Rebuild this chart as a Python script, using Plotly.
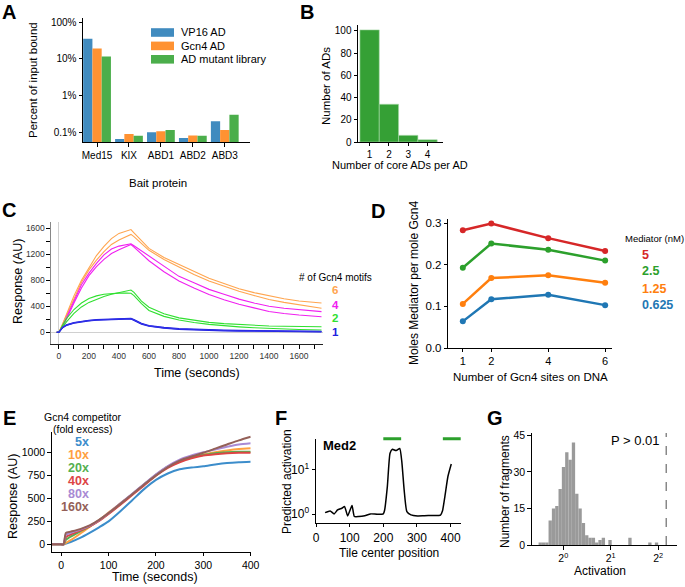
import plotly.graph_objects as go

W, H = 685, 587
FONT = "Liberation Sans, Arial, sans-serif"

# ---------------- Panel A data ----------------
a_bait_proteins = ["Med15", "KIX", "ABD1", "ABD2", "ABD3"]
a_vp16_ad = [35, 0.066, 0.10, 0.07, 0.20]          # percent of input bound
a_gcn4_ad = [19, 0.090, 0.107, 0.082, 0.115]
a_mutant_library = [11.5, 0.080, 0.115, 0.080, 0.30]
a_series_names = ["VP16 AD", "Gcn4 AD", "AD mutant library"]

# ---------------- Panel B data ----------------
b_core_ads = [1, 2, 3, 4]
b_num_ads = [101, 34, 6, 2]

# ---------------- Panel C data ----------------
c_time = [-15, 0, 25, 50, 100, 150, 200, 250, 300, 350, 400, 450, 480, 500, 550, 600,
          700, 800, 900, 1000, 1100, 1200, 1300, 1400, 1500, 1600, 1750]
c_orange_1 = [0, 0, 130, 270, 560, 800, 1000, 1180, 1320, 1440, 1520, 1560, 1580, 1530, 1410, 1290,
              1150, 1040, 930, 830, 750, 670, 610, 560, 515, 480, 450]
c_orange_2 = [0, 0, 125, 255, 530, 770, 960, 1110, 1240, 1350, 1420, 1475, 1505, 1470, 1370, 1260,
              1120, 1000, 890, 790, 705, 630, 565, 505, 460, 420, 370]
c_magenta_1 = [0, 0, 100, 225, 490, 730, 910, 1060, 1190, 1280, 1325, 1350, 1360, 1330, 1250, 1170,
               1010, 860, 760, 660, 585, 510, 450, 400, 370, 345, 317]
c_magenta_2 = [0, 0, 90, 200, 450, 680, 870, 1010, 1120, 1210, 1270, 1320, 1350, 1310, 1200, 1100,
               930, 790, 680, 580, 500, 430, 375, 320, 290, 265, 240]
c_green_1 = [0, 0, 80, 160, 290, 390, 460, 510, 550, 585, 610, 635, 650, 615, 480, 385,
             285, 222, 182, 152, 133, 118, 106, 97, 92, 88, 86]
c_green_2 = [0, 0, 110, 210, 350, 450, 520, 560, 585, 598, 602, 603, 600, 565, 440, 335,
             245, 190, 150, 122, 100, 84, 70, 58, 48, 42, 35]
c_blue_1 = [0, 0, 80, 115, 150, 170, 185, 195, 200, 205, 210, 212, 215, 195, 140, 105,
            75, 58, 48, 40, 35, 30, 26, 23, 20, 18, 15]
c_blue_2 = [0, 0, 70, 105, 140, 160, 175, 185, 192, 197, 200, 203, 205, 185, 125, 92,
            62, 45, 35, 28, 22, 18, 14, 12, 10, 8, 6]
c_blue_3 = [0, 0, 75, 110, 145, 165, 180, 190, 196, 202, 206, 208, 210, 190, 132, 98,
            68, 51, 41, 34, 28, 24, 20, 17, 15, 13, 10]
c_motif_labels = ["6", "4", "2", "1"]

# ---------------- Panel D data ----------------
d_sites = [1, 2, 4, 6]
d_med_5 = [0.283, 0.299, 0.264, 0.233]
d_med_2_5 = [0.193, 0.251, 0.236, 0.210]
d_med_1_25 = [0.106, 0.168, 0.175, 0.157]
d_med_0_625 = [0.064, 0.117, 0.128, 0.103]
d_conc_labels = ["5", "2.5", "1.25", "0.625"]

# ---------------- Panel E data ----------------
e_time = [-20, 0, 5, 10, 20, 40, 60, 80, 100, 125, 150, 175, 200, 225, 250, 275, 300, 325, 350, 375, 400]
e_5x = [0, 0, 0, 8, 25, 70, 125, 185, 250, 360, 480, 600, 700, 770, 815, 835, 848, 868, 884, 893, 898]
e_10x = [0, 0, 0, 15, 45, 115, 190, 265, 345, 445, 545, 650, 755, 845, 910, 950, 975, 1000, 1020, 1035, 1043]
e_20x = [0, 0, 0, 50, 85, 140, 195, 260, 335, 440, 545, 650, 755, 845, 905, 945, 970, 990, 1000, 1005, 1007]
e_40x = [0, 0, 0, 80, 105, 150, 195, 255, 330, 430, 535, 640, 745, 830, 890, 935, 965, 980, 990, 995, 996]
e_80x = [0, 0, 0, 105, 125, 160, 200, 262, 340, 445, 550, 655, 760, 850, 920, 965, 1000, 1030, 1060, 1085, 1098]
e_160x = [0, 0, 0, 125, 138, 165, 205, 265, 340, 440, 545, 650, 750, 840, 910, 955, 995, 1040, 1085, 1130, 1170]
e_fold_labels = ["5x", "10x", "20x", "40x", "80x", "160x"]

# ---------------- Panel F data ----------------
f_tile_pos = [27, 42, 54, 64, 77, 85, 94, 107, 114, 127, 145, 162, 182, 200, 204, 212, 220, 227, 237,
              242, 249, 255, 262, 270, 282, 302, 322, 345, 370, 376, 383, 392, 402]
f_activation = [1.09, 1.19, 1.02, 1.25, 1.37, 1.49, 0.92, 1.57, 0.89, 0.89, 0.93, 1.02, 1.0, 1.02, 1.25,
                4.2, 23.8, 29.2, 27.3, 28.3, 30.3, 15.4, 3.5, 1.15, 0.97, 0.92, 0.93, 0.94, 0.96, 1.2,
                2.5, 7.1, 13.6]
f_core_ad_regions = [(200, 253), (377, 431)]

# ---------------- Panel G data ----------------
g_log2_activation = [-0.485, -0.415, -0.345, -0.275, -0.205, -0.135, -0.065, 0.005, 0.075, 0.145,
                     0.215, 0.285, 0.355, 0.425, 0.495, 0.565, 0.635, 0.705, 0.775, 0.845, 0.985,
                     1.405, 1.825, 1.965]
g_counts = [1, 1, 1, 10, 15, 16, 23, 32, 38, 35, 42, 21, 15, 9, 4, 3, 3, 1, 2, 3, 2, 3, 1, 1]
g_bin_width = 0.07
g_threshold_log2 = 2.17


def px(x):
    return x / W


def py(y):
    return 1 - y / H


def axis(domain, anchor, size=10, **kw):
    d = dict(domain=domain, anchor=anchor, showline=True, linecolor="black", linewidth=1,
             ticks="outside", ticklen=3.5, tickwidth=1, tickcolor="black", showgrid=False,
             zeroline=False, automargin=False, fixedrange=True,
             tickfont=dict(size=size, family=FONT, color="black"))
    d.update(kw)
    return d


fig = go.Figure()

# ---- A ----
a_colors = ["#408bbf", "#ff9232", "#4bae4b"]
a_offsets = [-0.435, -0.145, 0.145]
for vals, col, off, name in zip([a_vp16_ad, a_gcn4_ad, a_mutant_library], a_colors, a_offsets, a_series_names):
    fig.add_trace(go.Bar(x=a_bait_proteins, y=vals, name=name, marker=dict(color=col, line=dict(width=0)),
                         width=0.29, offset=off, xaxis="x", yaxis="y", showlegend=False))

# ---- B ----
fig.add_trace(go.Bar(x=b_core_ads, y=b_num_ads, width=1, marker=dict(color="#35a035", line=dict(color="#a8d8a8", width=0.6)),
                     xaxis="x2", yaxis="y2", showlegend=False))

# ---- C ----
c_sets = [(c_orange_1, "#ffa54f"), (c_orange_2, "#ffa54f"), (c_magenta_1, "#f020f0"), (c_magenta_2, "#f020f0"),
          (c_green_1, "#30e030"), (c_green_2, "#30e030"), (c_blue_1, "#2020e0"), (c_blue_2, "#2020e0"),
          (c_blue_3, "#3030e8")]
for ys, col in c_sets:
    fig.add_trace(go.Scatter(x=c_time, y=ys, mode="lines", line=dict(color=col, width=1.1),
                             xaxis="x3", yaxis="y3", showlegend=False))

# ---- D ----
d_colors = ["#d62728", "#2ca02c", "#ff7f0e", "#1f77b4"]
for ys, col in zip([d_med_5, d_med_2_5, d_med_1_25, d_med_0_625], d_colors):
    fig.add_trace(go.Scatter(x=d_sites, y=ys, mode="lines+markers", line=dict(color=col, width=2.5),
                             marker=dict(color=col, size=6), xaxis="x4", yaxis="y4", showlegend=False))

# ---- E ----
e_colors = ["#3c8dcb", "#ffa040", "#55b050", "#dd4444", "#a98ad4", "#946058"]
for ys, col in zip([e_5x, e_10x, e_20x, e_40x, e_80x, e_160x], e_colors):
    fig.add_trace(go.Scatter(x=e_time, y=ys, mode="lines", line=dict(color=col, width=2, shape="spline", smoothing=0.6),
                             xaxis="x5", yaxis="y5", showlegend=False))

# ---- F ----
fig.add_trace(go.Scatter(x=f_tile_pos, y=f_activation, mode="lines", line=dict(color="black", width=1.5, shape="spline", smoothing=0.5),
                         xaxis="x6", yaxis="y6", showlegend=False))

# ---- G ----
fig.add_trace(go.Bar(x=g_log2_activation, y=g_counts, width=g_bin_width, marker=dict(color="#9a9a9a", line=dict(width=0)),
                     xaxis="x7", yaxis="y7", showlegend=False))

shapes = []
annotations = []


def ann(text, x, y, size=11, bold=False, color="black", angle=0, xanchor="center", yanchor="middle", pad=1):
    if bold:
        text = "<b>" + text + "</b>"
    annotations.append(dict(text=text, x=px(x), y=py(y), xref="paper", yref="paper", showarrow=False,
                            font=dict(size=size, family=FONT, color=color), textangle=angle,
                            xanchor=xanchor, yanchor=yanchor, borderpad=pad))


# panel letters
for letter, (x, y) in zip("ABCDEFG", [(9, 12), (307, 12), (9, 210), (378, 211), (9, 418), (281, 418), (495, 418)]):
    ann(letter, x, y, size=20, bold=True)

# A titles & legend
ann("Percent of input bound", 33, 80, size=11.5, angle=-90)
ann("Bait protein", 158, 183, size=11.5)
for i, (name, col) in enumerate(zip(a_series_names, a_colors)):
    yc = 32.5 + 13.4 * i
    shapes.append(dict(type="rect", xref="paper", yref="paper", x0=px(151), x1=px(174), y0=py(yc + 4.3), y1=py(yc - 4.3),
                       fillcolor=col, line=dict(width=0)))
    ann(name, 179, yc, size=11, xanchor="left")

# B titles
ann("Number of ADs", 326, 86, size=11.5, angle=-90)
ann("Number of core ADs per AD", 400, 165, size=11)

# C titles & legend
ann("Response (AU)", 18, 282, size=12.5, angle=-90)
ann("Time (seconds)", 197, 373, size=12.5)
ann("# of Gcn4 motifs", 335, 278, size=10)
for lab, col, yy in zip(c_motif_labels, ["#ffa54f", "#f020f0", "#30e030", "#2020e0"], [290, 304.5, 318, 331.5]):
    ann(lab, 335, yy, size=11.5, bold=True, color=col, pad=0)

# D titles & legend
ann("Moles Mediator per mole Gcn4", 414, 283, size=12, angle=-90)
ann("Number of Gcn4 sites on DNA", 530, 377, size=11.5)
ann("Mediator (nM)", 623, 238, size=9.5, xanchor="left")
for lab, col, yy in zip(d_conc_labels, d_colors, [254.5, 271, 288.5, 305]):
    ann(lab, 640, yy, size=12.5, bold=True, color=col, xanchor="left")

# E titles & legend
ann("Response (AU)", 13, 497, size=12.5, angle=-90)
ann("Time (seconds)", 155, 577, size=12.5)
ann("Gcn4 competitor", 83, 416.5, size=10.5)
ann("(fold excess)", 83, 429, size=10.5)
for lab, col, yy in zip(e_fold_labels, e_colors, [441.7, 454.5, 468, 481, 494.3, 507.5]):
    ann(lab, 91, yy, size=12.5, bold=True, color=col, xanchor="right")

# F titles
ann("Predicted activation", 287, 482, size=12, angle=-90)
ann("Tile center position", 389, 553, size=12)
ann("Med2", 321, 445, size=13, bold=True, xanchor="left")
for x0, x1 in f_core_ad_regions:
    shapes.append(dict(type="line", xref="x6", yref="paper", x0=x0, x1=x1, y0=py(438.7), y1=py(438.7),
                       line=dict(color="#2ca02c", width=3)))

# G titles
ann("Number of fragments", 505, 492, size=12, angle=-90)
ann("Activation", 600, 571, size=12)
ann("P > 0.01", 662, 440, size=13, xanchor="right")
shapes.append(dict(type="line", xref="x7", yref="paper", x0=g_threshold_log2, x1=g_threshold_log2,
                   y0=py(545), y1=py(433), line=dict(color="#888888", width=1.5, dash="dash")))

layout = dict(
    width=W, height=H, margin=dict(l=0, r=0, t=0, b=0, autoexpand=False), paper_bgcolor="white", plot_bgcolor="white",
    barmode="overlay", font=dict(family=FONT, color="black"), showlegend=False,
    shapes=shapes, annotations=annotations,
    # A
    xaxis=axis([px(83), px(250)], "y", size=10, type="category", range=[-0.44, 4.79]),
    yaxis=axis([py(142), py(18)], "x", size=10, type="log", range=[-1.264, 2.109],
               tickvals=[0.1, 1, 10, 100], ticktext=["0.1%", "1%", "10%", "100%"]),
    # B
    xaxis2=axis([px(358), px(443)], "y2", size=10, range=[0.40, 4.8], tickvals=[1, 2, 3, 4], ticklen=2.5),
    yaxis2=axis([py(142), py(25)], "x2", size=10, range=[0, 105.4], tickvals=[0, 20, 40, 60, 80, 100]),
    # C
    xaxis3=axis([px(51), px(323)], "y3", size=8.5, range=[-53, 1760], tickvals=list(range(0, 1601, 200)),
                zeroline=True, zerolinecolor="#d0d0d0", zerolinewidth=1, linecolor="#222",
                tickfont=dict(size=8.5, family=FONT, color="#333"),
                minor=dict(ticks="outside", dtick=100, tick0=0, ticklen=4, tickcolor="black")),
    yaxis3=axis([py(344), py(221.7)], "x3", size=8.5, range=[-180, 1700], tickvals=[0, 400, 800, 1200, 1600],
                zeroline=True, zerolinecolor="#d0d0d0", zerolinewidth=1, linecolor="#888",
                tickfont=dict(size=8.5, family=FONT, color="#333"),
                minor=dict(ticks="outside", dtick=200, tick0=0, ticklen=4, tickcolor="black")),
    # D
    xaxis4=axis([px(448.3), px(611.7)], "y4", size=11, range=[0.49, 6.23], tickvals=[1, 2, 4, 6], ticklen=3),
    yaxis4=axis([py(348), py(219)], "x4", size=11.5, range=[0, 0.31], tickvals=[0, 0.1, 0.2, 0.3], tickformat=".1f"),
    # E
    xaxis5=axis([px(51.7), px(250.7)], "y5", size=10.5, range=[-20, 400], tickvals=[0, 100, 200, 300, 400]),
    yaxis5=axis([py(551.7), py(431.7)], "x5", size=10.5, range=[-80, 1224], tickvals=[0, 250, 500, 750, 1000]),
    # F
    xaxis6=axis([px(316), px(460.7)], "y6", size=12, range=[0, 430], tickvals=[0, 100, 200, 300, 400]),
    yaxis6=axis([py(522.7), py(439.3)], "x6", size=12, type="log", range=[-0.19, 1.69], tickvals=[1, 10],
                ticktext=["10<sup>0</sup>", "10<sup>1</sup>"]),
    # G
    xaxis7=axis([px(531.7), px(676.7)], "y7", size=10.5, range=[-0.665, 2.39], tickvals=[0, 1, 2],
                ticktext=["2<sup>0</sup>", "2<sup>1</sup>", "2<sup>2</sup>"]),
    yaxis7=axis([py(545), py(433.3)], "x7", size=10.5, range=[0, 45.8], tickvals=[0, 15, 30, 45]),
)
fig.update_layout(**layout)
fig.write_html("out.html", config=dict(displayModeBar=False, responsive=False),
               post_script="document.body.style.margin='0';document.body.style.padding='0';document.documentElement.style.overflow='hidden';")
